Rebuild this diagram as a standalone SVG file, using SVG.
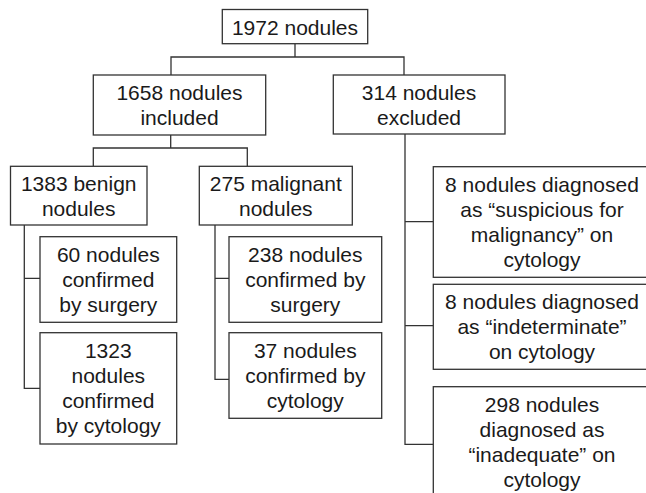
<svg xmlns="http://www.w3.org/2000/svg" width="646" height="493" viewBox="0 0 646 493">
<style>
.box{fill:#fff;stroke:#333;stroke-width:1.3}
.con{fill:none;stroke:#333;stroke-width:1.3}
text{font-family:"Liberation Sans",Arial,sans-serif;font-size:21px;fill:#1a1a1a;text-anchor:middle}
</style>
<rect width="646" height="493" fill="#fff"/>
<g id="connectors">
<path class="con" d="M295,43.7V57M171,75V57H404V75"/>
<path class="con" d="M170.7,135V148M93.3,166V148H247.3V166"/>
<path class="con" d="M24.3,225V388.3H40M24.3,278.3H40"/>
<path class="con" d="M215,225V379.3H229M215,278.3H229"/>
<path class="con" d="M405,134V444.3H433.3M405,221.7H433.3M405,325.7H433.3"/>
</g>
<g id="n1972"><rect class="box" x="222.3" y="9.5" width="145.4" height="34.2"/><text x="295" y="34.5">1972 nodules</text></g>
<g id="n1658"><rect class="box" x="93.3" y="75" width="172.4" height="60"/><text x="179.5" y="100">1658 nodules</text><text x="179.5" y="125">included</text></g>
<g id="n314"><rect class="box" x="333.3" y="75" width="171.7" height="59"/><text x="419" y="100">314 nodules</text><text x="419" y="125">excluded</text></g>
<g id="n1383"><rect class="box" x="10.5" y="166.3" width="136.5" height="58.7"/><text x="78.7" y="191">1383 benign</text><text x="78.7" y="216">nodules</text></g>
<g id="n275"><rect class="box" x="199.3" y="166.3" width="153" height="58.7"/><text x="275.8" y="191">275 malignant</text><text x="275.8" y="216">nodules</text></g>
<g id="n60"><rect class="box" x="40" y="236.7" width="136.7" height="85.6"/><text x="108.3" y="262">60 nodules</text><text x="108.3" y="287">confirmed</text><text x="108.3" y="312">by surgery</text></g>
<g id="n1323"><rect class="box" x="40" y="332.7" width="136.7" height="111.3"/><text x="108.3" y="358.3">1323</text><text x="108.3" y="383.3">nodules</text><text x="108.3" y="408.3">confirmed</text><text x="108.3" y="433.3">by cytology</text></g>
<g id="n238"><rect class="box" x="229" y="236.7" width="152.7" height="85.6"/><text x="305.3" y="262">238 nodules</text><text x="305.3" y="287">confirmed by</text><text x="305.3" y="312">surgery</text></g>
<g id="n37"><rect class="box" x="229" y="332.7" width="152.7" height="85.6"/><text x="305.3" y="358">37 nodules</text><text x="305.3" y="383">confirmed by</text><text x="305.3" y="408">cytology</text></g>
<g id="nsusp"><rect class="box" x="433.3" y="166.7" width="220" height="110.6"/><text x="542" y="192">8 nodules diagnosed</text><text x="542" y="217">as “suspicious for</text><text x="542" y="242">malignancy” on</text><text x="542" y="267">cytology</text></g>
<g id="nindet"><rect class="box" x="433.3" y="284.3" width="220" height="85"/><text x="542" y="309">8 nodules diagnosed</text><text x="542" y="334">as “indeterminate”</text><text x="542" y="359">on cytology</text></g>
<g id="ninad"><rect class="box" x="433.3" y="386.7" width="220" height="120"/><text x="542" y="412">298 nodules</text><text x="542" y="437">diagnosed as</text><text x="542" y="462">“inadequate” on</text><text x="542" y="487">cytology</text></g>
</svg>
